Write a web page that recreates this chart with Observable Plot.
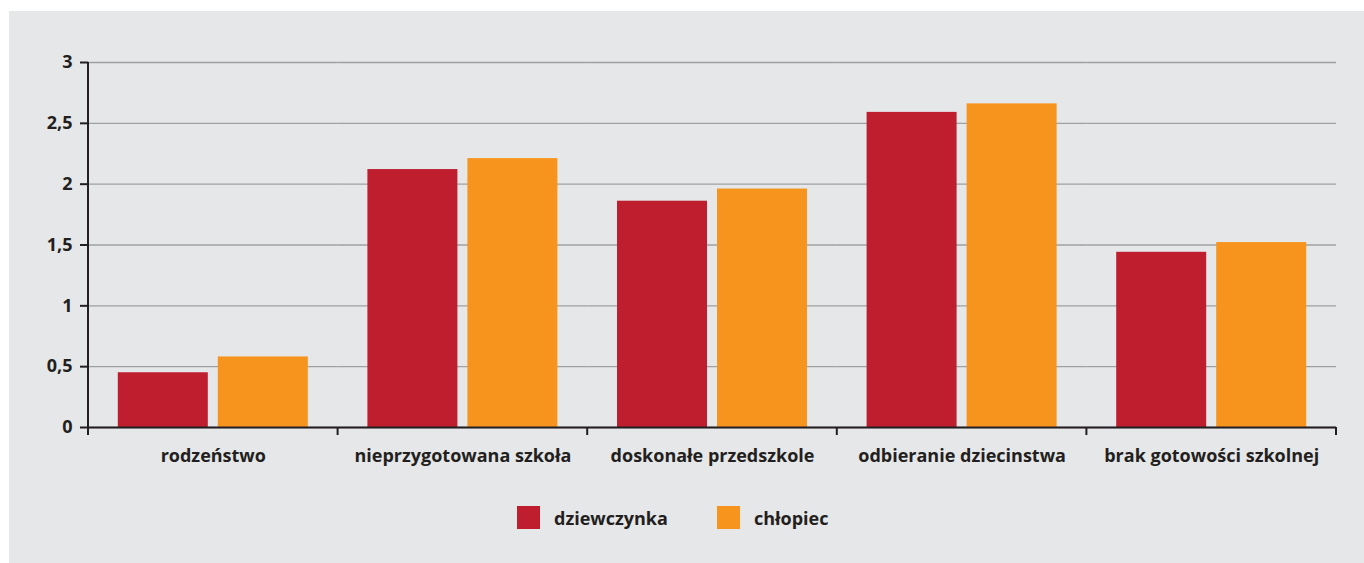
<!DOCTYPE html>
<html>
<head>
<meta charset="utf-8">
<script src="https://cdn.jsdelivr.net/npm/d3@7"></script>
<script src="https://cdn.jsdelivr.net/npm/@observablehq/plot@0.6"></script>
<style>
  html, body { margin: 0; padding: 0; background: #ffffff; }
  #panel { position: absolute; left: 9px; top: 11px; width: 1355px; height: 552px; background: #e6e7e8; }
  #chart { position: absolute; left: 0; top: 0; }
  .item { position: absolute; top: 506px; height: 23px; display: flex; align-items: center;
          font-family: "Open Sans", sans-serif; font-weight: 700; font-size: 18px; color: #231f20; }
  .sw { width: 23px; height: 23px; margin-right: 14px; }
</style>
</head>
<body>
<div id="panel"></div>
<div id="chart"></div>
<div id="legend"></div>
<script>
const categories = ["rodzeństwo", "nieprzygotowana szkoła", "doskonałe przedszkole", "odbieranie dziecinstwa", "brak gotowości szkolnej"];
const series = ["dziewczynka", "chłopiec"];
const dziewczynka = [0.45, 2.12, 1.86, 2.59, 1.44];
const chlopiec = [0.58, 2.21, 1.96, 2.66, 1.52];
const yTicks = [0, 0.5, 1, 1.5, 2, 2.5, 3];
const colors = ["#be1e2d", "#f7941d"];

const data = categories.flatMap((c, i) => [
  {category: c, series: series[0], value: dziewczynka[i]},
  {category: c, series: series[1], value: chlopiec[i]}
]);

const ink = "#231f20";
const plot = Plot.plot({
  width: 1364,
  height: 480,
  marginLeft: 88,
  marginRight: 28,
  marginTop: 62,
  marginBottom: 53,
  style: {background: "transparent", fontFamily: "'Open Sans', sans-serif", fontSize: "18px", fontWeight: 700, color: ink},
  fx: {domain: categories, padding: 0, round: false, label: null},
  x: {domain: series, paddingInner: 0.1, paddingOuter: 0.298, round: false, axis: null, label: null},
  y: {domain: [0, 3], label: null},
  color: {domain: series, range: colors},
  marks: [
    Plot.gridY(yTicks, {stroke: "#9fa0a2", strokeOpacity: 1, strokeWidth: 1.3}),
    Plot.barY(data, {fx: "category", x: "series", y: "value", fill: "series"}),
    Plot.ruleY([0], {stroke: ink, strokeWidth: 2}),
    Plot.axisY(yTicks, {tickFormat: d => String(d).replace(".", ","), tickSize: 8, tickPadding: 8, stroke: ink, strokeWidth: 2, fill: ink, fontSize: 18, fontWeight: 700, label: null}),
    Plot.axisFx({anchor: "bottom", tickSize: 0, tickPadding: 22, fill: ink, fontSize: 18, fontWeight: 700, label: null})
  ]
});

document.getElementById("chart").appendChild(plot);

// axis line and category-boundary ticks, positioned with the plot's own scales
const fxS = plot.scale("fx"), yS = plot.scale("y");
const edges = categories.map(c => fxS.apply(c)).concat([fxS.apply(categories[categories.length - 1]) + fxS.bandwidth]);
const g = d3.select(plot).append("g").attr("stroke", ink).attr("stroke-width", 2);
g.selectAll("line.edge").data(edges).join("line").attr("class", "edge")
  .attr("x1", d => d).attr("x2", d => d)
  .attr("y1", yS.apply(0)).attr("y2", yS.apply(0) + 8);
g.append("line")
  .attr("x1", edges[0]).attr("x2", edges[0])
  .attr("y1", yS.apply(3)).attr("y2", yS.apply(0) + 1);

// legend
const legendLefts = [517, 717];
const legend = document.getElementById("legend");
series.forEach((s, i) => {
  const item = document.createElement("div");
  item.className = "item";
  item.style.left = legendLefts[i] + "px";
  const sw = document.createElement("div");
  sw.className = "sw";
  sw.style.background = colors[i];
  const label = document.createElement("span");
  label.textContent = s;
  item.appendChild(sw);
  item.appendChild(label);
  legend.appendChild(item);
});
</script>
</body>
</html>
